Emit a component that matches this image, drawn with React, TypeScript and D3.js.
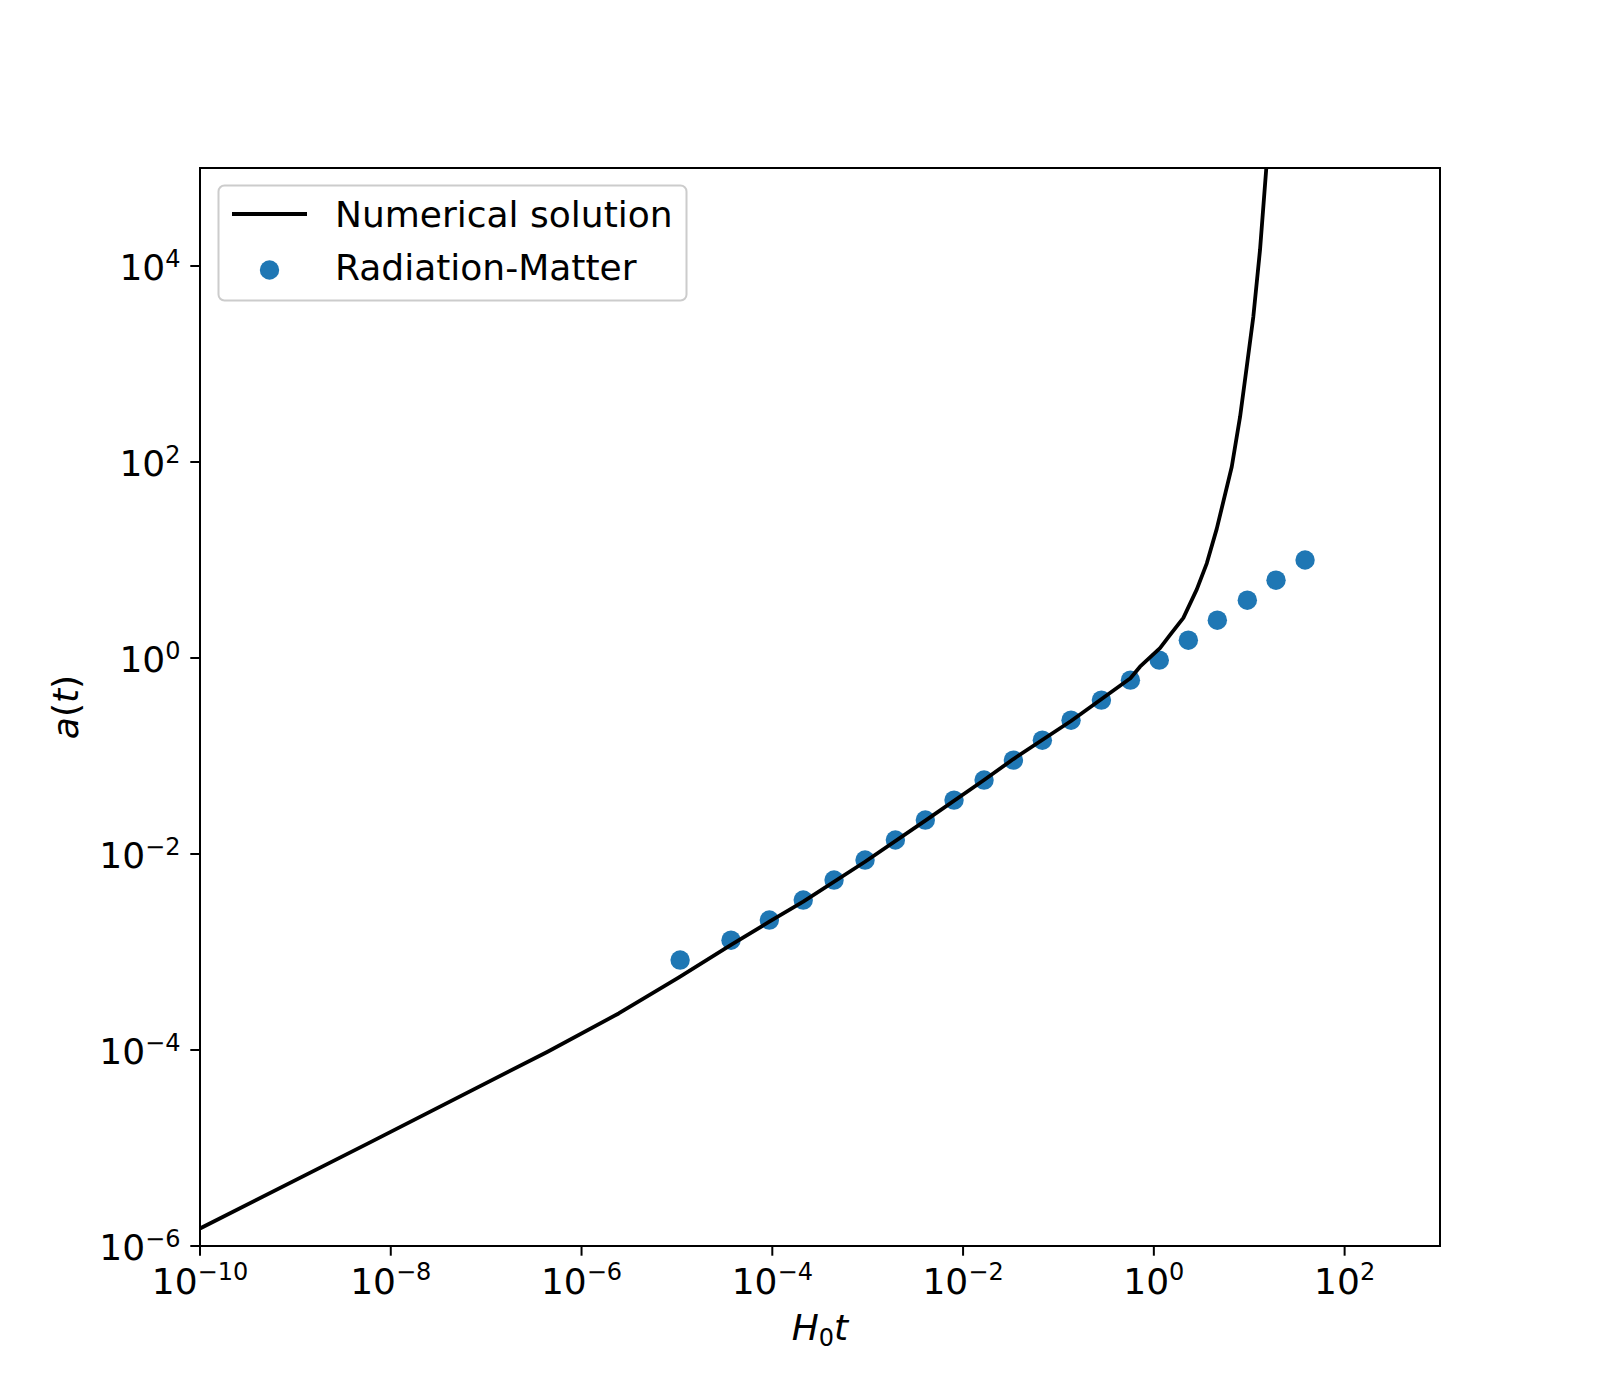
import * as d3 from 'd3';

// numerical solution a(t) (H0 t, a)
const lineT = [
  1e-10, 5.86e-9, 4.36e-7, 2.45e-6, 1.05e-5, 3.69e-5, 9.31e-5, 2.11e-4, 9.38e-4,
  4.02e-3, 1.66e-2, 3.37e-2, 0.1355, 0.568, 0.716, 1.16, 1.48, 2.04, 2.82, 3.59,
  4.57, 6.56, 8.02, 9.42, 11.04, 12.97, 15.1,
];
const lineA = [
  1.51e-6, 1.12e-5, 9.55e-5, 2.36e-4, 5.5e-4, 1.18e-3, 2.04e-3, 3.26e-3, 8.34e-3,
  2.19e-2, 5.69e-2, 9.31e-2, 0.2275, 0.621, 0.815, 1.26, 1.72, 2.57, 5.01, 9.25,
  20.9, 89.5, 290, 938, 3040, 14550, 1e5,
];

// radiation-matter approximation points
const dotT = [
  1.08e-5, 3.69e-5, 9.31e-5, 2.11e-4, 4.44e-4, 9.38e-4, 1.95e-3, 4.02e-3, 8.04e-3,
  1.66e-2, 3.37e-2, 6.78e-2, 0.1355, 0.282, 0.568, 1.14, 2.3, 4.63, 9.55, 19.1, 38.5,
];
const dotA = [
  8.28e-4, 1.32e-3, 2.12e-3, 3.39e-3, 5.42e-3, 8.67e-3, 1.39e-2, 2.22e-2, 3.55e-2,
  5.68e-2, 9.08e-2, 0.145, 0.232, 0.372, 0.594, 0.951, 1.52, 2.43, 3.89, 6.22, 10,
];

const xTickExps = [-10, -8, -6, -4, -2, 0, 2];
const yTickExps = [-6, -4, -2, 0, 2, 4];

const seriesNames = ['Numerical solution', 'Radiation-Matter'];

const W = 1600;
const H = 1400;
const left = 200;
const right = 1440;
const top = 168;
const bottom = 1246;

const FONT = 'DejaVu Sans, sans-serif';
const FS = 36;
const SUP = 24;
const BLUE = '#1f77b4';

const fmtExp = (e: number) => (e < 0 ? '\u2212' + Math.abs(e) : String(e));

export default function App() {
  const x = d3.scaleLog().domain([1e-10, 1e3]).range([left, right]);
  const y = d3.scaleLog().domain([1e-6, 1e5]).range([bottom, top]);

  const linePts = lineT.map((t, i) => [t, lineA[i]] as [number, number]);
  const path = d3
    .line<[number, number]>()
    .x(d => x(d[0]))
    .y(d => y(d[1]))(linePts);

  const dots = dotT.map((t, i) => ({ t, a: dotA[i] }));

  return (
    <div style={{ position: 'absolute', left: 0, top: 0 }}>
      <svg width={W} height={H} style={{ display: 'block', background: '#fff' }} fontFamily={FONT}>
        <defs>
          <clipPath id="plot-clip">
            <rect x={left} y={top} width={right - left} height={bottom - top} />
          </clipPath>
        </defs>

        {/* scatter first, line drawn on top like matplotlib */}
        <g clipPath="url(#plot-clip)">
          {dots.map((d, i) => (
            <circle key={i} cx={x(d.t)} cy={y(d.a)} r={9.7} fill={BLUE} />
          ))}
          <path d={path ?? ''} fill="none" stroke="#000" strokeWidth={3.8} strokeLinejoin="round" />
        </g>

        {/* spines */}
        <rect x={left} y={top} width={right - left} height={bottom - top} fill="none" stroke="#000" strokeWidth={2} />

        {/* x ticks */}
        {xTickExps.map(e => {
          const px = x(Math.pow(10, e));
          return (
            <g key={'x' + e}>
              <line x1={px} x2={px} y1={bottom} y2={bottom + 9.7} stroke="#000" strokeWidth={2} />
              <text x={px} y={1294} textAnchor="middle" fontSize={FS} fill="#000">
                10
                <tspan fontSize={SUP} dy={-14.5}>{fmtExp(e)}</tspan>
              </text>
            </g>
          );
        })}

        {/* y ticks */}
        {yTickExps.map(e => {
          const py = y(Math.pow(10, e));
          return (
            <g key={'y' + e}>
              <line x1={left - 9.7} x2={left} y1={py} y2={py} stroke="#000" strokeWidth={2} />
              <text x={180.5} y={py + 14} textAnchor="end" fontSize={FS} fill="#000">
                10
                <tspan fontSize={SUP} dy={-13.5}>{fmtExp(e)}</tspan>
              </text>
            </g>
          );
        })}

        {/* axis labels */}
        <text x={(left + right) / 2} y={1340} textAnchor="middle" fontSize={FS} fill="#000">
          <tspan fontStyle="italic">H</tspan>
          <tspan fontSize={SUP} dy={6}>0</tspan>
          <tspan fontStyle="italic" dy={-6}>t</tspan>
        </text>
        <text
          transform={`translate(78,${(top + bottom) / 2}) rotate(-90)`}
          textAnchor="middle"
          fontSize={FS}
          fill="#000"
        >
          <tspan fontStyle="italic">a</tspan>
          <tspan>(</tspan>
          <tspan fontStyle="italic">t</tspan>
          <tspan>)</tspan>
        </text>

        {/* legend */}
        <g>
          <rect x={218.5} y={185.5} width={468} height={115} rx={6} fill="#fff" fillOpacity={0.8} stroke="#cccccc" strokeWidth={2} />
          <line x1={232} x2={307} y1={214} y2={214} stroke="#000" strokeWidth={3.8} />
          <text x={335} y={227} fontSize={FS} fill="#000">{seriesNames[0]}</text>
          <circle cx={269.5} cy={270} r={9.7} fill={BLUE} />
          <text x={335} y={280} fontSize={FS} fill="#000">{seriesNames[1]}</text>
        </g>
      </svg>
    </div>
  );
}
